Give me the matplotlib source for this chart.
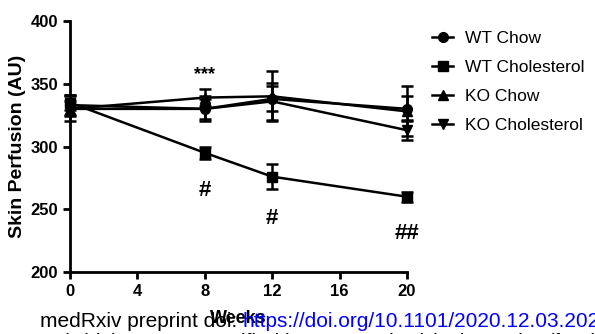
import matplotlib
matplotlib.use("Agg")
import matplotlib.pyplot as plt
from matplotlib.lines import Line2D

plt.rcParams['font.family'] = ['Liberation Sans', 'DejaVu Sans']

weeks = [0, 8, 12, 20]
series_names = ["WT Chow", "WT Cholesterol", "KO Chow", "KO Cholesterol"]
wt_chow = [333, 330, 338, 330]
wt_chow_err = [8, 10, 10, 10]
wt_chol = [335, 295, 276, 260]
wt_chol_err = [6, 5, 10, 4]
ko_chow = [330, 339, 340, 328]
ko_chow_err = [10, 7, 20, 20]
ko_chol = [330, 330, 336, 313]
ko_chol_err = [6, 8, 15, 8]
xticks = [0, 4, 8, 12, 16, 20]
yticks = [200, 250, 300, 350, 400]

fig = plt.figure(figsize=(5.95, 3.34), dpi=100)
ax = fig.add_axes([0.1176, 0.1856, 0.5664, 0.7514])

markers = ['o', 's', '^', 'v']
data = [(wt_chow, wt_chow_err), (wt_chol, wt_chol_err), (ko_chow, ko_chow_err), (ko_chol, ko_chol_err)]
handles = []
for name, (vals, errs), m in zip(series_names, data, markers):
    ax.errorbar(weeks, vals, yerr=errs, color='black', marker=m, markersize=7,
                linewidth=1.8, elinewidth=1.8, capsize=4, capthick=1.8,
                clip_on=False)
    handles.append(Line2D([], [], color='black', marker=m, markersize=7, linewidth=1.8))

ax.set_xlim(0, 20)
ax.set_ylim(200, 400)
ax.set_xticks(xticks)
ax.set_yticks(yticks)
for s in ['top', 'right']:
    ax.spines[s].set_visible(False)
for s in ['left', 'bottom']:
    ax.spines[s].set_linewidth(2)
ax.tick_params(width=2, length=5, labelsize=12)
for lbl in ax.get_xticklabels() + ax.get_yticklabels():
    lbl.set_fontweight('bold')

ax.set_ylabel("Skin Perfusion (AU)", fontsize=14, fontweight='bold', labelpad=3)
ax.set_xlabel("Weeks", fontsize=13, fontweight='bold', labelpad=8)

ax.text(8, 357, "***", ha='center', va='center', fontsize=13, fontweight='bold')
ax.text(8, 265, "#", ha='center', va='center', fontsize=16, fontweight='bold')
ax.text(12, 243, "#", ha='center', va='center', fontsize=16, fontweight='bold')
ax.text(20, 231, "##", ha='center', va='center', fontsize=16, fontweight='bold')

leg = fig.legend(handles=handles, labels=series_names, loc='upper left',
                 bbox_to_anchor=(0.70, 0.955), frameon=False, fontsize=12.5,
                 handlelength=1.2, labelspacing=0.8, handletextpad=0.7)

t1 = fig.text(40 / 595, 1 - 327 / 334, "medRxiv preprint doi: ", fontsize=15,
              color='black', ha='left', va='baseline')
fig.canvas.draw()
bb = t1.get_window_extent(renderer=fig.canvas.get_renderer())
fig.text(bb.x1 / fig.bbox.width, 1 - 327 / 334, "https://doi.org/10.1101/2020.12.03.20243378",
         fontsize=15, color='blue', ha='left', va='baseline')
fig.text(62 / 595, 1 - 348 / 334, "(which was not certified by peer review) is the author/funder",
         fontsize=15, color='black', ha='left', va='baseline')

fig.savefig("out.png", dpi=100)
